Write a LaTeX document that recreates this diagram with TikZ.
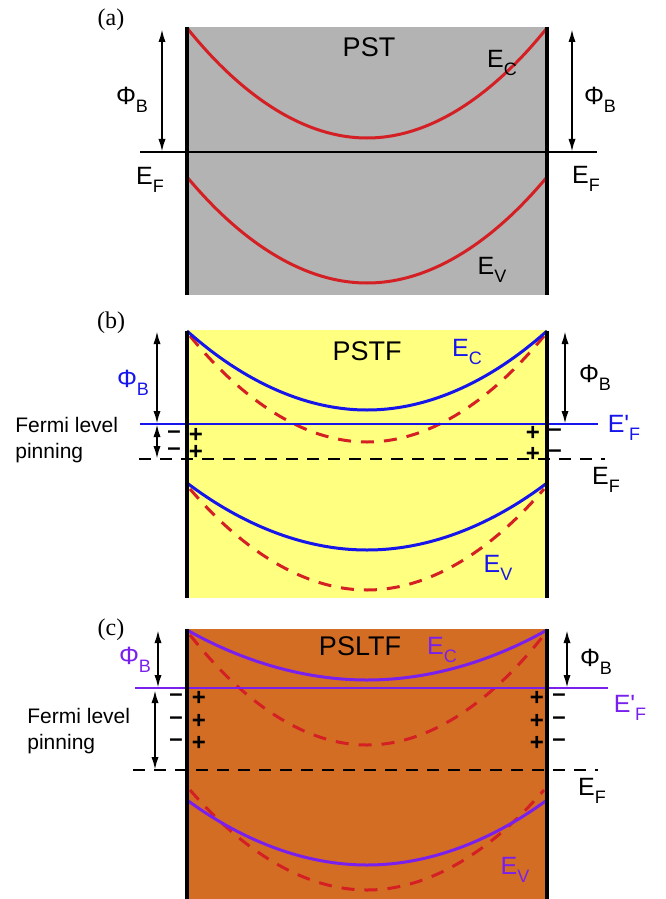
\documentclass[tikz,border=0pt]{standalone}
\usepackage{fontspec}
\setmainfont{Liberation Sans}
\newfontfamily\panelfont{Liberation Serif}
\usetikzlibrary{arrows.meta}
\definecolor{pstgray}{RGB}{179,179,179}
\definecolor{pstfyellow}{RGB}{255,255,128}
\definecolor{psltforange}{RGB}{211,109,36}
\definecolor{bandred}{RGB}{212,32,36}
\definecolor{bandblue}{RGB}{22,22,235}
\definecolor{bandpurple}{RGB}{122,32,238}
\newcommand{\lowidx}[1]{\raisebox{-4pt}{\fontsize{9}{10}\selectfont #1}}
\tikzset{wall/.style={line width=2pt},
  band/.style={line width=1.5pt},
  banddash/.style={band,bandred,dash pattern=on 6.5pt off 5pt},
  level/.style={line width=1pt},
  leveldash/.style={level,dash pattern=on 6pt off 4.5pt},
  barrier/.style={{Latex[length=6.5pt,width=3.6pt]}-{Latex[length=6.5pt,width=3.6pt]},line width=1pt},
  lbl/.style={font=\fontsize{12.5}{14}\selectfont,inner sep=0pt},
  mat/.style={font=\fontsize{13.5}{15}\selectfont,inner sep=0pt},
  tag/.style={font=\panelfont\fontsize{12}{14}\selectfont,inner sep=0pt},
  chg/.style={font=\fontsize{12}{14}\selectfont\bfseries,inner sep=0pt},
  pin/.style={font=\fontsize{10.5}{13}\selectfont,align=left,inner sep=0pt,anchor=west}}

\begin{document}
\begin{tikzpicture}[x=0.5pt,y=-0.5pt]
\useasboundingbox (0,0) rectangle (665,899);
% (a) PST
\fill[pstgray] (187,27) rectangle (547,295);
\node[tag] (taga) at (111,20) {(a)};
\node[mat] (pst) at (369,47) {PST};
\draw[band,bandred] (187,28) parabola bend (367,138) (547,28);
\draw[band,bandred] (187,177) parabola bend (367,283) (547,177);
\draw[level] (140,152) -- (597,152);
\draw[wall] (187,27) -- (187,295);
\draw[wall] (547,27) -- (547,295);
\coordinate (aLt) at (162,29); \coordinate (aLb) at (162,152);
\coordinate (aRt) at (572,29); \coordinate (aRb) at (572,152);
\draw[barrier] (aLt) -- (aLb);
\draw[barrier] (aRt) -- (aRb);
\node[lbl] (aphiL) at (132,100) {Φ\lowidx{B}};
\node[lbl] (aphiR) at (600,100) {Φ\lowidx{B}};
\node[lbl] (aefL) at (150,180) {E\lowidx{F}};
\node[lbl] (aefR) at (586,179) {E\lowidx{F}};
\node[lbl] (aec) at (502,63) {E\lowidx{C}};
\node[lbl] (aev) at (492,270) {E\lowidx{V}};

% (b) PSTF
\fill[pstfyellow] (187,330) rectangle (547,598);
\node[tag] (tagb) at (111,323) {(b)};
\node[mat] (pstf) at (367,351) {PSTF};
\draw[banddash] (190,336) parabola bend (367,442) (544,336);
\draw[banddash] (190,489) parabola bend (367,590) (544,489);
\draw[band,bandblue] (187,331) parabola bend (367,410) (547,331);
\draw[band,bandblue] (187,483) parabola bend (367,550) (547,483);
\draw[level,bandblue] (140,424) -- (598,424);
\draw[leveldash] (139,459) -- (605,459);
\draw[wall] (187,331) -- (187,598);
\draw[wall] (547,331) -- (547,598);
\coordinate (bLt) at (157,331); \coordinate (bLm) at (157,424);
\coordinate (bLb) at (157,459);
\coordinate (bRt) at (565,331); \coordinate (bRb) at (565,424);
\draw[barrier] (bLt) -- (bLm);
\draw[barrier] (bLm) -- (bLb);
\draw[barrier] (bRt) -- (bRb);
\node[pin] (bpin) at (15,440) {Fermi level\\pinning};
\foreach \y in {435,452} {
  \node[chg] at (174,\y) {–};
  \node[chg] at (196,\y) {+};
}
\foreach \y in {433,454} {
  \node[chg] at (533,\y) {+};
  \node[chg] at (555,\y) {–};
}
\node[lbl,bandblue] (bphiL) at (133,383) {Φ\lowidx{B}};
\node[lbl] (bphiR) at (595,378) {Φ\lowidx{B}};
\node[lbl,bandblue] (befp) at (624,428) {E\textquotesingle\lowidx{F}};
\node[lbl] (bef) at (606,480) {E\lowidx{F}};
\node[lbl,bandblue] (bec) at (467,352) {E\lowidx{C}};
\node[lbl,bandblue] (bev) at (498,568) {E\lowidx{V}};

% (c) PSLTF
\fill[psltforange] (187,629) rectangle (547,899);
\node[tag] (tagc) at (111,630) {(c)};
\node[mat] (psltf) at (360,646) {PSLTF};
\draw[banddash] (190,635) parabola bend (367,745) (544,635);
\draw[banddash] (190,790) parabola bend (367,890) (544,790);
\draw[band,bandpurple] (187,630) parabola bend (367,680) (547,630);
\draw[band,bandpurple] (187,800) parabola bend (367,865) (547,800);
\draw[level,bandpurple] (135,688) -- (608,688);
\draw[leveldash] (133,770) -- (598,770);
\draw[wall] (187,629) -- (187,899);
\draw[wall] (547,629) -- (547,899);
\coordinate (cLt) at (158,630); \coordinate (cLm) at (158,688);
\coordinate (cLp) at (155,690); \coordinate (cLb) at (155,770);
\coordinate (cRt) at (567,630); \coordinate (cRb) at (567,688);
\draw[barrier] (cLt) -- (cLm);
\draw[barrier] (cLp) -- (cLb);
\draw[barrier] (cRt) -- (cRb);
\node[pin] (cpin) at (27,731) {Fermi level\\pinning};
\foreach \y in {698,721,743} {
  \node[chg] at (176,\y) {–};
  \node[chg] at (199,\y) {+};
  \node[chg] at (537,\y) {+};
  \node[chg] at (559,\y) {–};
}
\node[lbl,bandpurple] (cphiL) at (135,660) {Φ\lowidx{B}};
\node[lbl] (cphiR) at (596,662) {Φ\lowidx{B}};
\node[lbl,bandpurple] (cefp) at (630,708) {E\textquotesingle\lowidx{F}};
\node[lbl] (cef) at (592,791) {E\lowidx{F}};
\node[lbl,bandpurple] (cec) at (442,650) {E\lowidx{C}};
\node[lbl,bandpurple] (cev) at (515,870) {E\lowidx{V}};
\end{tikzpicture}
\end{document}
